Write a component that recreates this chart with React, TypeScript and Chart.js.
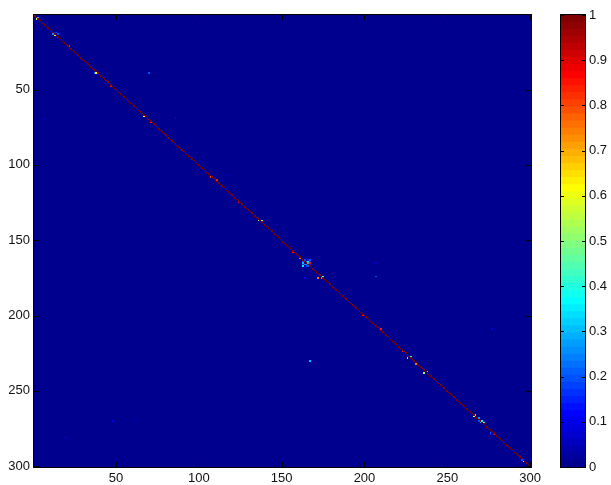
import { useEffect, useRef } from "react";
import { Chart, registerables } from "chart.js";
Chart.register(...registerables);

// ---- data ----
const matrixSize = 300;
const diagonalValue = 1;
const baseValue = 0;
// off-diagonal spots (1-indexed row, col) and their values
const spotRows = [3, 2, 13, 12, 14, 13, 12, 21, 39, 39, 48, 39, 68, 72, 70, 69, 270, 281, 270, 108, 110, 107, 125, 137, 137, 158, 162, 164, 164, 163, 165, 167, 166, 167, 166, 168, 162, 163, 164, 166, 165, 163, 167, 165, 166, 175, 174, 175, 175, 230, 174, 165, 200, 209, 224, 228, 227, 232, 238, 237, 267, 266, 270, 271, 270, 271, 268, 279, 278, 279, 297, 296, 209];
const spotCols = [2, 3, 12, 14, 13, 15, 13, 22, 38, 37, 47, 70, 67, 71, 6, 86, 48, 20, 61, 107, 111, 118, 124, 136, 138, 157, 161, 163, 166, 167, 167, 163, 164, 166, 167, 164, 165, 164, 165, 165, 163, 166, 165, 166, 163, 172, 175, 174, 164, 167, 207, 207, 199, 210, 223, 226, 228, 231, 236, 238, 266, 267, 271, 270, 269, 272, 269, 278, 276, 276, 296, 295, 277];
const spotValues = [0.55, 0.3, 0.25, 0.2, 0.6, 0.2, 0.15, 0.85, 0.62, 0.2, 0.85, 0.2, 0.62, 0.85, 0.08, 0.12, 0.1, 0.1, 0.06, 0.8, 0.85, 0.1, 0.88, 0.5, 0.45, 0.85, 0.75, 0.2, 0.35, 0.2, 0.85, 0.35, 0.25, 0.2, 0.15, 0.12, 0.12, 0.2, 0.25, 0.25, 0.3, 0.15, 0.2, 0.3, 0.2, 0.75, 0.45, 0.3, 0.12, 0.3, 0.2, 0.08, 0.85, 0.85, 0.88, 0.5, 0.4, 0.75, 0.5, 0.35, 0.55, 0.4, 0.35, 0.3, 0.2, 0.4, 0.25, 0.88, 0.2, 0.15, 0.65, 0.2, 0.08];
const xTickValues = [50, 100, 150, 200, 250, 300];
const yTickValues = [50, 100, 150, 200, 250, 300];
const colorTickValues = [0, 0.1, 0.2, 0.3, 0.4, 0.5, 0.6, 0.7, 0.8, 0.9, 1];
const colorLevels = 64;

// MATLAB jet(64)
function jetMap(n: number): string[] {
  const m = Math.ceil(n / 4);
  const u: number[] = [];
  for (let i = 1; i <= m; i++) u.push(i / m);
  for (let i = 0; i < m - 1; i++) u.push(1);
  for (let i = m; i >= 1; i--) u.push(i / m);
  const J = Array.from({ length: n }, () => [0, 0, 0]);
  const g0 = Math.ceil(m / 2) - (n % 4 === 1 ? 1 : 0);
  for (let i = 1; i <= u.length; i++) {
    const g = g0 + i, r = g + m, b = g - m;
    if (r <= n) J[r - 1][0] = u[i - 1];
    if (g <= n) J[g - 1][1] = u[i - 1];
    if (b >= 1 && b <= n) J[b - 1][2] = u[i - 1];
  }
  return J.map(([r, g, b]) => `rgb(${Math.round(r * 255)},${Math.round(g * 255)},${Math.round(b * 255)})`);
}

const FONT = { family: "'Liberation Sans', Arial, Helvetica, sans-serif", size: 13 };
const TEXT = "#111";

export default function App() {
  const heatRef = useRef<HTMLCanvasElement>(null);
  const cbRef = useRef<HTMLCanvasElement>(null);

  useEffect(() => {
    const colors = jetMap(colorLevels);
    const colorOf = (v: number) => colors[Math.max(0, Math.min(colorLevels - 1, Math.floor(v * colorLevels)))];

    const matrix = new Float32Array(matrixSize * matrixSize).fill(baseValue);
    for (let i = 0; i < matrixSize; i++) matrix[i * matrixSize + i] = diagonalValue;
    spotRows.forEach((r, k) => {
      matrix[(r - 1) * matrixSize + (spotCols[k] - 1)] = spotValues[k];
    });

    const heatPlugin = {
      id: "heat",
      beforeDatasetsDraw(chart: any) {
        const { ctx } = chart;
        const xs = chart.scales.x, ys = chart.scales.y;
        const xe: number[] = [], ye: number[] = [];
        for (let k = 0; k <= matrixSize; k++) {
          xe.push(Math.round(xs.getPixelForValue(k + 0.5)));
          ye.push(Math.round(ys.getPixelForValue(k + 0.5)));
        }
        ctx.save();
        for (let r = 0; r < matrixSize; r++) {
          const y0 = ye[r], y1 = ye[r + 1];
          let c = 0;
          while (c < matrixSize) {
            const col = colorOf(matrix[r * matrixSize + c]);
            let c2 = c + 1;
            while (c2 < matrixSize && colorOf(matrix[r * matrixSize + c2]) === col) c2++;
            ctx.fillStyle = col;
            ctx.fillRect(xe[c], y0, xe[c2] - xe[c], y1 - y0);
            c = c2;
          }
        }
        ctx.restore();
      },
      afterDraw(chart: any) {
        const { ctx, chartArea: a } = chart;
        const xs = chart.scales.x, ys = chart.scales.y;
        ctx.save();
        ctx.strokeStyle = "#000";
        ctx.lineWidth = 1;
        ctx.strokeRect(a.left - 0.5, a.top - 0.5, a.right - a.left + 1, a.bottom - a.top + 1);
        ctx.beginPath();
        const tl = 5;
        xTickValues.forEach((v) => {
          const p = Math.round(xs.getPixelForValue(v)) + 0.5;
          ctx.moveTo(p, a.bottom); ctx.lineTo(p, a.bottom - tl);
          ctx.moveTo(p, a.top); ctx.lineTo(p, a.top + tl);
        });
        yTickValues.forEach((v) => {
          const p = Math.round(ys.getPixelForValue(v)) + 0.5;
          ctx.moveTo(a.left, p); ctx.lineTo(a.left + tl, p);
          ctx.moveTo(a.right, p); ctx.lineTo(a.right - tl, p);
        });
        ctx.stroke();
        ctx.restore();
      },
    };

    const heat = new Chart(heatRef.current!, {
      type: "scatter",
      data: { datasets: [{ data: [], pointRadius: 0 }] },
      options: {
        animation: false,
        responsive: false,
        layout: { padding: { left: 0, right: 4, top: 15, bottom: 0 } },
        plugins: { legend: { display: false }, tooltip: { enabled: false } },
        scales: {
          x: {
            type: "linear", min: 0.5, max: matrixSize + 0.5, position: "bottom",
            grid: { display: false, drawTicks: false }, border: { display: false },
            ticks: { font: FONT, color: TEXT, padding: 4, maxRotation: 0, autoSkip: false, callback: (v: any) => String(v) },
            afterBuildTicks: (s: any) => { s.ticks = xTickValues.map((v) => ({ value: v })); },
            afterFit: (s: any) => { s.height = 18; },
          },
          y: {
            type: "linear", min: 0.5, max: matrixSize + 0.5, reverse: true, position: "left",
            grid: { display: false, drawTicks: false }, border: { display: false },
            ticks: { font: FONT, color: TEXT, padding: 4, autoSkip: false, callback: (v: any) => String(v) },
            afterBuildTicks: (s: any) => { s.ticks = yTickValues.map((v) => ({ value: v })); },
            afterFit: (s: any) => { s.width = 34; },
          },
        },
      },
      plugins: [heatPlugin],
    } as any);

    const cbPlugin = {
      id: "cbframe",
      afterDraw(chart: any) {
        const { ctx, chartArea: a } = chart;
        const ys = chart.scales.y;
        ctx.save();
        ctx.strokeStyle = "#000";
        ctx.lineWidth = 1;
        ctx.strokeRect(a.left + 0.5, a.top - 0.5, a.right - a.left - 1, a.bottom - a.top + 1);
        ctx.beginPath();
        const tl = 4;
        colorTickValues.forEach((v) => {
          const p = Math.round(ys.getPixelForValue(v)) + 0.5;
          ctx.moveTo(a.left, p); ctx.lineTo(a.left + tl, p);
          ctx.moveTo(a.right, p); ctx.lineTo(a.right - tl, p);
        });
        ctx.stroke();
        ctx.restore();
      },
    };

    const cb = new Chart(cbRef.current!, {
      type: "bar",
      data: {
        labels: ["colorbar"],
        datasets: colors.map((c, k) => ({
          data: [[0, (k + 1) / colorLevels]],
          backgroundColor: c,
          borderWidth: 0,
          barPercentage: 1,
          categoryPercentage: 1,
          grouped: false,
        })),
      },
      options: {
        animation: false,
        responsive: false,
        layout: { padding: { left: 0, right: 0, top: 15, bottom: 18 } },
        plugins: { legend: { display: false }, tooltip: { enabled: false } },
        scales: {
          x: { display: false },
          y: {
            type: "linear", min: 0, max: 1, position: "right",
            grid: { display: false, drawTicks: false }, border: { display: false },
            ticks: { font: FONT, color: TEXT, padding: 3, autoSkip: false, callback: (v: any) => String(Math.round(Number(v) * 10) / 10) },
            afterBuildTicks: (s: any) => { s.ticks = colorTickValues.map((v) => ({ value: v })); },
            afterFit: (s: any) => { s.width = 25; },
          },
        },
      },
      plugins: [cbPlugin],
    } as any);

    return () => {
      heat.destroy();
      cb.destroy();
    };
  }, []);

  return (
    <div style={{ position: "fixed", left: 0, top: 0, width: 611, height: 485, background: "#fff" }}>
      <canvas ref={heatRef} width={545} height={485} style={{ position: "absolute", left: 0, top: 0, width: 545, height: 485 }} />
      <canvas ref={cbRef} width={51} height={485} style={{ position: "absolute", left: 560, top: 0, width: 51, height: 485 }} />
    </div>
  );
}
